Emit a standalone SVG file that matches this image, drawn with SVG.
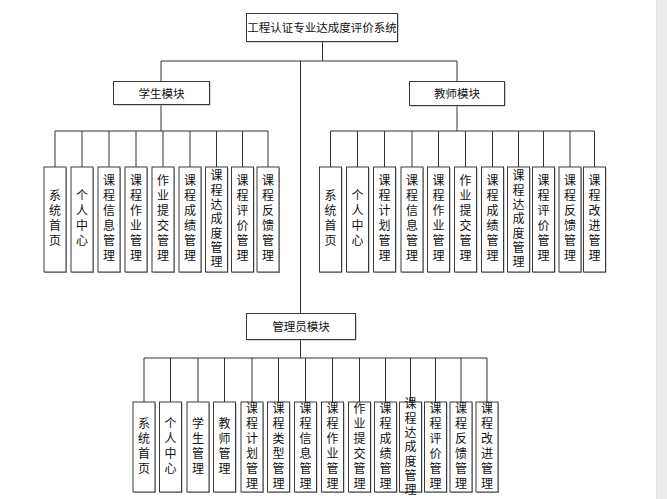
<svg xmlns="http://www.w3.org/2000/svg" width="667" height="499" viewBox="0 0 667 499">
<style>
.box{fill:#fff;stroke:#3a3a3a;stroke-width:1}
.sh{fill:#a8a8a8}
.t{font-family:"Noto Sans CJK SC","Liberation Sans",sans-serif;font-size:12px;fill:#111;text-anchor:middle}
.h{font-size:11.5px}
.v{writing-mode:vertical-rl;letter-spacing:3px}
.v7{writing-mode:vertical-rl;letter-spacing:2.3px}
.c line{stroke:#333;stroke-width:1}
</style>
<rect x="0" y="0" width="667" height="499" fill="#fff"/>
<rect x="656" y="0" width="11" height="499" fill="#ebebeb"/>
<line x1="656.5" y1="0" x2="656.5" y2="499" stroke="#e2e2e2"/>
<g class="c" id="connectors">
<line x1="322.5" y1="41" x2="322.5" y2="61"/>
<line x1="161" y1="61" x2="457" y2="61"/>
<line x1="161" y1="61" x2="161" y2="81"/>
<line x1="457" y1="61" x2="457" y2="81"/>
<line x1="300.5" y1="61" x2="300.5" y2="313"/>
<line x1="161" y1="104" x2="161" y2="131"/>
<line x1="55" y1="131" x2="268" y2="131"/>
<line x1="55" y1="131" x2="55" y2="167"/>
<line x1="82" y1="131" x2="82" y2="167"/>
<line x1="109" y1="131" x2="109" y2="167"/>
<line x1="136" y1="131" x2="136" y2="167"/>
<line x1="163" y1="131" x2="163" y2="167"/>
<line x1="190" y1="131" x2="190" y2="167"/>
<line x1="216.5" y1="131" x2="216.5" y2="167"/>
<line x1="242.5" y1="131" x2="242.5" y2="167"/>
<line x1="268" y1="131" x2="268" y2="167"/>
<line x1="457" y1="105" x2="457" y2="131"/>
<line x1="330.5" y1="131" x2="594.5" y2="131"/>
<line x1="330.5" y1="131" x2="330.5" y2="167"/>
<line x1="357.5" y1="131" x2="357.5" y2="167"/>
<line x1="384.5" y1="131" x2="384.5" y2="167"/>
<line x1="412" y1="131" x2="412" y2="167"/>
<line x1="438.5" y1="131" x2="438.5" y2="167"/>
<line x1="465.5" y1="131" x2="465.5" y2="167"/>
<line x1="492.5" y1="131" x2="492.5" y2="167"/>
<line x1="518.5" y1="131" x2="518.5" y2="167"/>
<line x1="543.5" y1="131" x2="543.5" y2="167"/>
<line x1="570" y1="131" x2="570" y2="167"/>
<line x1="594.5" y1="131" x2="594.5" y2="167"/>
<line x1="300.5" y1="339" x2="300.5" y2="358"/>
<line x1="144" y1="358" x2="487" y2="358"/>
<line x1="144" y1="358" x2="144" y2="402"/>
<line x1="170.5" y1="358" x2="170.5" y2="402"/>
<line x1="198" y1="358" x2="198" y2="402"/>
<line x1="224.5" y1="358" x2="224.5" y2="402"/>
<line x1="252" y1="358" x2="252" y2="402"/>
<line x1="278.5" y1="358" x2="278.5" y2="402"/>
<line x1="305.5" y1="358" x2="305.5" y2="402"/>
<line x1="332.5" y1="358" x2="332.5" y2="402"/>
<line x1="359.5" y1="358" x2="359.5" y2="402"/>
<line x1="385.5" y1="358" x2="385.5" y2="402"/>
<line x1="410.5" y1="358" x2="410.5" y2="402"/>
<line x1="435.5" y1="358" x2="435.5" y2="402"/>
<line x1="461" y1="358" x2="461" y2="402"/>
<line x1="487" y1="358" x2="487" y2="402"/>
</g>

<g id="root"><rect class="sh" x="247.5" y="14.5" width="151" height="28"/><rect class="box" x="246.5" y="13.5" width="151" height="28"/><text class="t h" x="322" y="32">工程认证专业达成度评价系统</text></g>
<g id="student"><rect class="sh" x="114.5" y="82.5" width="96" height="23"/><rect class="box" x="113.5" y="81.5" width="96" height="23"/><text class="t h" x="161.5" y="97.5">学生模块</text></g>
<g id="teacher"><rect class="sh" x="410.5" y="82.5" width="95" height="24"/><rect class="box" x="409.5" y="81.5" width="95" height="24"/><text class="t h" x="457" y="98">教师模块</text></g>
<g id="admin"><rect class="sh" x="247.5" y="314.5" width="109" height="26"/><rect class="box" x="246.5" y="313.5" width="109" height="26"/><text class="t h" x="301" y="331">管理员模块</text></g>

<!-- student children -->
<g id="s1"><rect class="sh" x="45" y="168" width="22" height="105"/><rect class="box" x="44" y="167" width="22" height="105"/><text class="t v" x="55" y="219.5">系统首页</text></g>
<g id="s2"><rect class="sh" x="72" y="168" width="22" height="105"/><rect class="box" x="71" y="167" width="22" height="105"/><text class="t v" x="82" y="219.5">个人中心</text></g>
<g id="s3"><rect class="sh" x="99" y="168" width="22" height="105"/><rect class="box" x="98" y="167" width="22" height="105"/><text class="t v" x="109" y="219.5">课程信息管理</text></g>
<g id="s4"><rect class="sh" x="126" y="168" width="22" height="105"/><rect class="box" x="125" y="167" width="22" height="105"/><text class="t v" x="136" y="219.5">课程作业管理</text></g>
<g id="s5"><rect class="sh" x="153" y="168" width="22" height="105"/><rect class="box" x="152" y="167" width="22" height="105"/><text class="t v" x="163" y="219.5">作业提交管理</text></g>
<g id="s6"><rect class="sh" x="180" y="168" width="22" height="105"/><rect class="box" x="179" y="167" width="22" height="105"/><text class="t v" x="190" y="219.5">课程成绩管理</text></g>
<g id="s7"><rect class="sh" x="206.5" y="168" width="22" height="105"/><rect class="box" x="205.5" y="167" width="22" height="105"/><text class="t v7" x="216.5" y="220">课程达成度管理</text></g>
<g id="s8"><rect class="sh" x="232.5" y="168" width="22" height="105"/><rect class="box" x="231.5" y="167" width="22" height="105"/><text class="t v" x="242.5" y="219.5">课程评价管理</text></g>
<g id="s9"><rect class="sh" x="258" y="168" width="22" height="105"/><rect class="box" x="257" y="167" width="22" height="105"/><text class="t v" x="268" y="219.5">课程反馈管理</text></g>

<!-- teacher children -->
<g id="t1"><rect class="sh" x="320.5" y="168" width="22" height="105"/><rect class="box" x="319.5" y="167" width="22" height="105"/><text class="t v" x="330.5" y="219.5">系统首页</text></g>
<g id="t2"><rect class="sh" x="347.5" y="168" width="22" height="105"/><rect class="box" x="346.5" y="167" width="22" height="105"/><text class="t v" x="357.5" y="219.5">个人中心</text></g>
<g id="t3"><rect class="sh" x="374.5" y="168" width="22" height="105"/><rect class="box" x="373.5" y="167" width="22" height="105"/><text class="t v" x="384.5" y="219.5">课程计划管理</text></g>
<g id="t4"><rect class="sh" x="402" y="168" width="22" height="105"/><rect class="box" x="401" y="167" width="22" height="105"/><text class="t v" x="412" y="219.5">课程信息管理</text></g>
<g id="t5"><rect class="sh" x="428.5" y="168" width="22" height="105"/><rect class="box" x="427.5" y="167" width="22" height="105"/><text class="t v" x="438.5" y="219.5">课程作业管理</text></g>
<g id="t6"><rect class="sh" x="455.5" y="168" width="22" height="105"/><rect class="box" x="454.5" y="167" width="22" height="105"/><text class="t v" x="465.5" y="219.5">作业提交管理</text></g>
<g id="t7"><rect class="sh" x="482.5" y="168" width="22" height="105"/><rect class="box" x="481.5" y="167" width="22" height="105"/><text class="t v" x="492.5" y="219.5">课程成绩管理</text></g>
<g id="t8"><rect class="sh" x="508.5" y="168" width="22" height="105"/><rect class="box" x="507.5" y="167" width="22" height="105"/><text class="t v7" x="518.5" y="220">课程达成度管理</text></g>
<g id="t9"><rect class="sh" x="533.5" y="168" width="22" height="105"/><rect class="box" x="532.5" y="167" width="22" height="105"/><text class="t v" x="543.5" y="219.5">课程评价管理</text></g>
<g id="t10"><rect class="sh" x="560" y="168" width="22" height="105"/><rect class="box" x="559" y="167" width="22" height="105"/><text class="t v" x="570" y="219.5">课程反馈管理</text></g>
<g id="t11"><rect class="sh" x="584.5" y="168" width="22" height="105"/><rect class="box" x="583.5" y="167" width="22" height="105"/><text class="t v" x="594.5" y="219.5">课程改进管理</text></g>

<!-- admin children -->
<g id="a1"><rect class="sh" x="134" y="403" width="22" height="90"/><rect class="box" x="133" y="402" width="22" height="90"/><text class="t v" x="144" y="447.5">系统首页</text></g>
<g id="a2"><rect class="sh" x="160.5" y="403" width="22" height="90"/><rect class="box" x="159.5" y="402" width="22" height="90"/><text class="t v" x="170.5" y="447.5">个人中心</text></g>
<g id="a3"><rect class="sh" x="188" y="403" width="22" height="90"/><rect class="box" x="187" y="402" width="22" height="90"/><text class="t v" x="198" y="447.5">学生管理</text></g>
<g id="a4"><rect class="sh" x="214.5" y="403" width="22" height="90"/><rect class="box" x="213.5" y="402" width="22" height="90"/><text class="t v" x="224.5" y="447.5">教师管理</text></g>
<g id="a5"><rect class="sh" x="242" y="403" width="22" height="90"/><rect class="box" x="241" y="402" width="22" height="90"/><text class="t v" x="252" y="447.5">课程计划管理</text></g>
<g id="a6"><rect class="sh" x="268.5" y="403" width="22" height="90"/><rect class="box" x="267.5" y="402" width="22" height="90"/><text class="t v" x="278.5" y="447.5">课程类型管理</text></g>
<g id="a7"><rect class="sh" x="295.5" y="403" width="22" height="90"/><rect class="box" x="294.5" y="402" width="22" height="90"/><text class="t v" x="305.5" y="447.5">课程信息管理</text></g>
<g id="a8"><rect class="sh" x="322.5" y="403" width="22" height="90"/><rect class="box" x="321.5" y="402" width="22" height="90"/><text class="t v" x="332.5" y="447.5">课程作业管理</text></g>
<g id="a9"><rect class="sh" x="349.5" y="403" width="22" height="90"/><rect class="box" x="348.5" y="402" width="22" height="90"/><text class="t v" x="359.5" y="447.5">作业提交管理</text></g>
<g id="a10"><rect class="sh" x="375.5" y="403" width="22" height="90"/><rect class="box" x="374.5" y="402" width="22" height="90"/><text class="t v" x="385.5" y="447.5">课程成绩管理</text></g>
<g id="a11"><rect class="sh" x="400.5" y="403" width="22" height="90"/><rect class="box" x="399.5" y="402" width="22" height="90"/><text class="t v7" x="410.5" y="448">课程达成度管理</text></g>
<g id="a12"><rect class="sh" x="425.5" y="403" width="22" height="90"/><rect class="box" x="424.5" y="402" width="22" height="90"/><text class="t v" x="435.5" y="447.5">课程评价管理</text></g>
<g id="a13"><rect class="sh" x="451" y="403" width="22" height="90"/><rect class="box" x="450" y="402" width="22" height="90"/><text class="t v" x="461" y="447.5">课程反馈管理</text></g>
<g id="a14"><rect class="sh" x="477" y="403" width="22" height="90"/><rect class="box" x="476" y="402" width="22" height="90"/><text class="t v" x="487" y="447.5">课程改进管理</text></g>
</svg>
